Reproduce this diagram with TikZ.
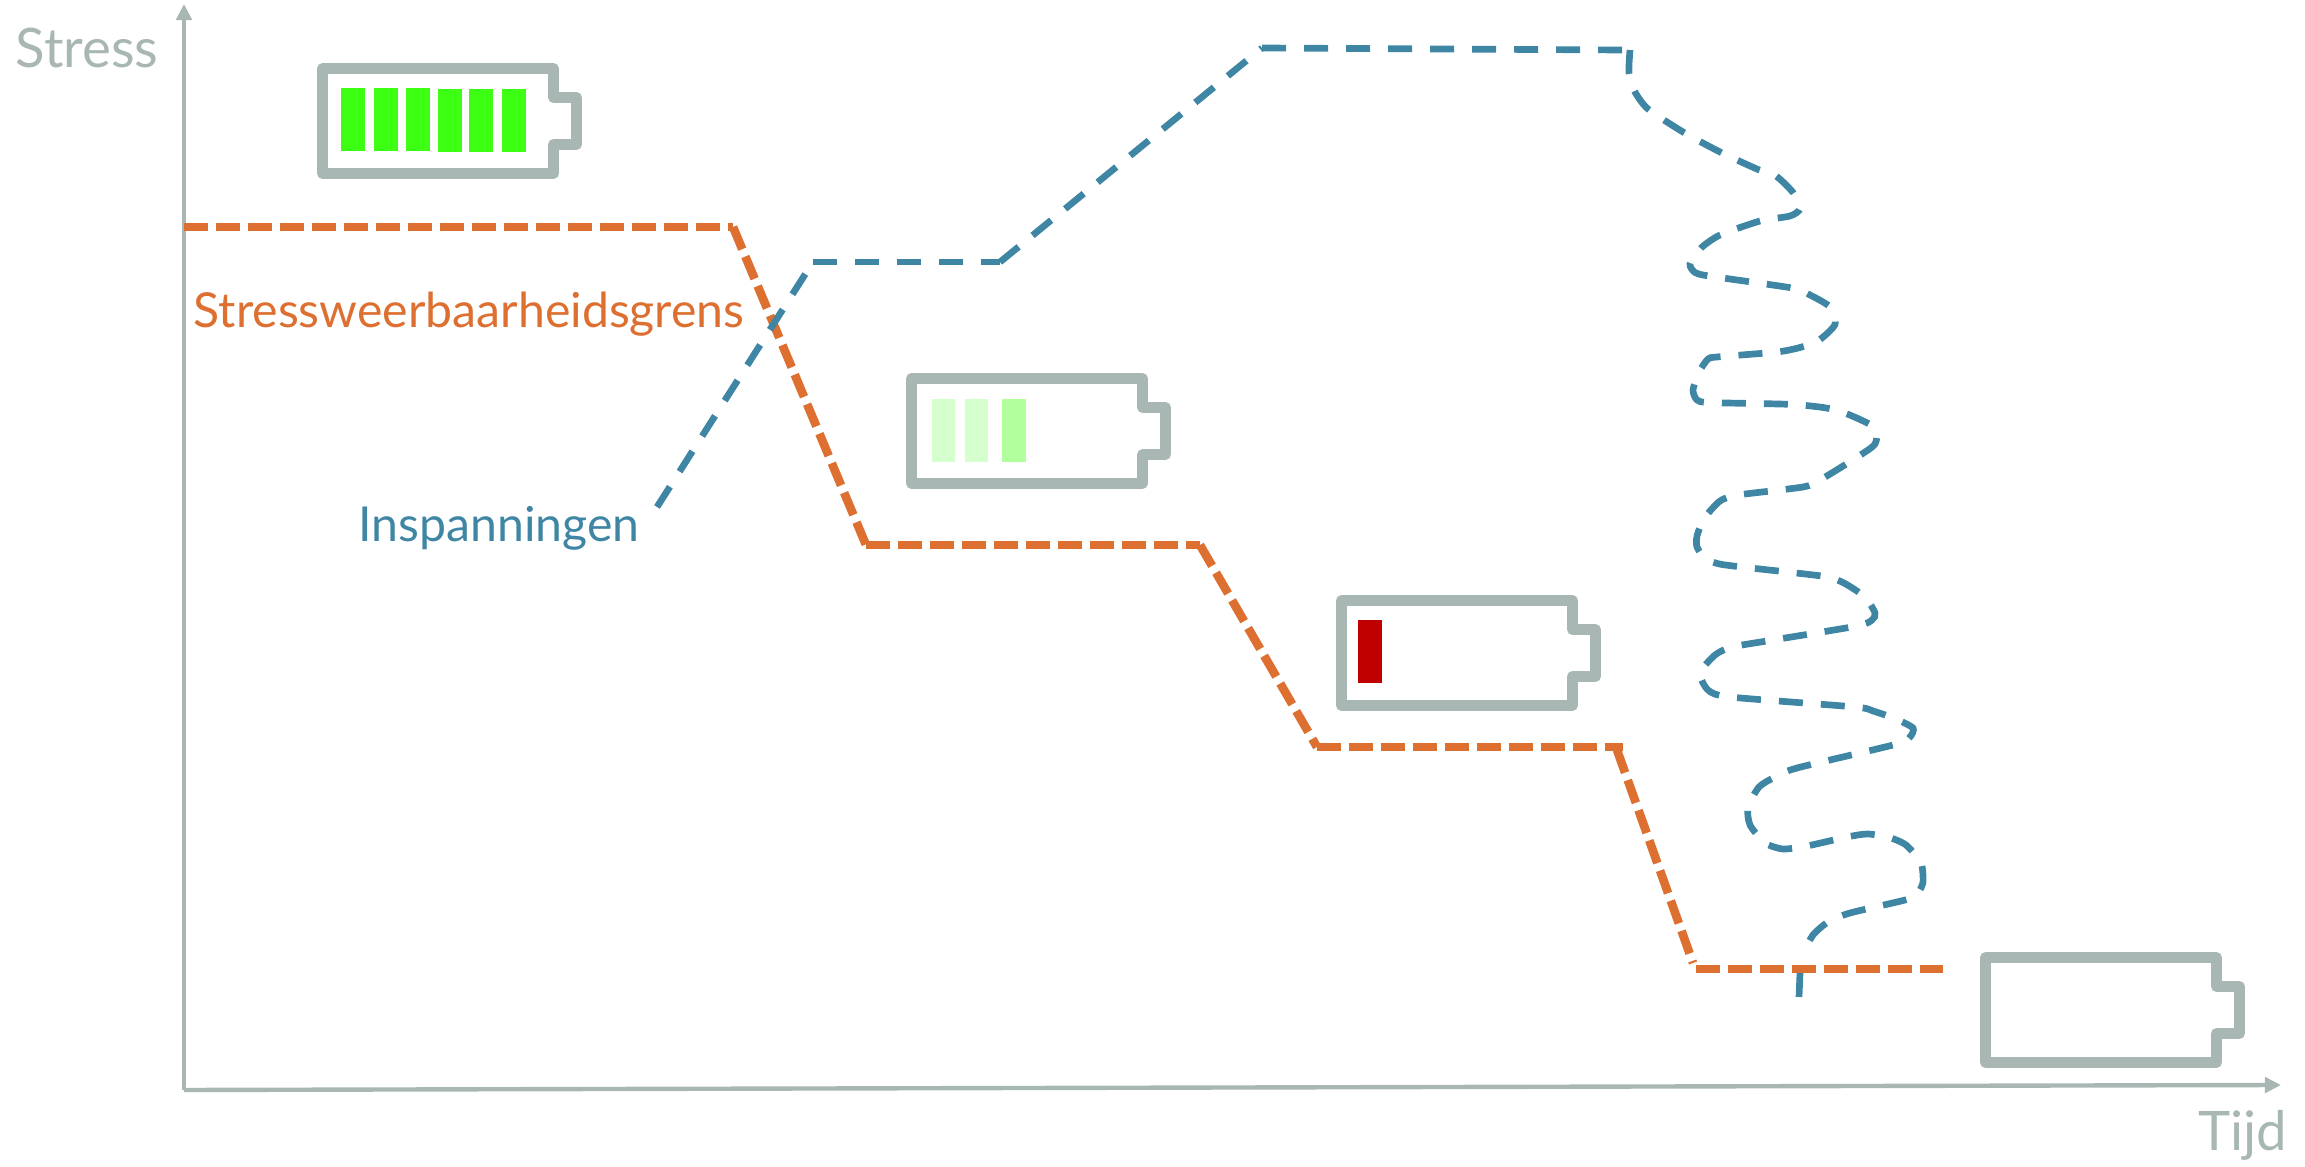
\documentclass[tikz,border=0pt]{standalone}
\usepackage{fontspec}
\setmainfont{Lato}
\usetikzlibrary{arrows.meta}
\definecolor{axisgray}{HTML}{A8B7B3}
\definecolor{limit}{HTML}{DD6F31}
\definecolor{effort}{HTML}{3F86A4}
\definecolor{charge}{HTML}{3CFF14}
\definecolor{chargepale}{HTML}{D6FFCE}
\definecolor{chargemid}{HTML}{B2FF9E}
\definecolor{chargelow}{HTML}{C00000}

\begin{document}
\begin{tikzpicture}[
  x=0.01cm, y=-0.01cm,
  axis/.style={draw=axisgray, line width=1.25pt, -{Triangle[length=4.6pt, width=4.4pt]}},
  limitline/.style={draw=limit, line width=2.45pt, dash pattern=on 6.83pt off 2.27pt},
  effortline/.style={draw=effort, line width=1.9pt, dash pattern=on 6.83pt off 5.12pt},
  axislabel/.style={font=\fontsize{15.5}{18}\selectfont, text=axisgray, anchor=base west, inner sep=0pt},
  linelabel/.style={font=\fontsize{13.7}{16}\selectfont, anchor=base west, inner sep=0pt},
  bar/.style={fill=#1, draw=none},
  battery/.pic={
    \draw[axisgray, line width=3.1pt, line join=round] (5.5,5.5) -- ++(231,0) -- ++(0,29) -- ++(23,0)
      -- ++(0,47) -- ++(-23,0) -- ++(0,29) -- ++(-231,0) -- cycle;
  },
]
\useasboundingbox (0,0) rectangle (2305,1167);

% axes
\coordinate (origin) at (184,1090);
\coordinate (ytop) at (184,4);
\coordinate (xend) at (2281,1085);
\draw[axis] (origin) -- (ytop);
\draw[axis] (origin) -- (xend);
\node[axislabel] (stress) at (15,68) {Stress};
\node[axislabel] (tijd) at (2198,1150) {Tijd};

% batteries
\pic at (317,63) {battery};
\pic at (906,373) {battery};
\pic at (1336,595) {battery};
\pic at (1980,952) {battery};

\foreach \x in {341,374,406} {
  \fill[bar=charge] (\x,88) rectangle ++(24,63);
}
\foreach \x in {438,469,502} {
  \fill[bar=charge] (\x,89) rectangle ++(24,63);
}
\foreach \x in {932,965} {
  \fill[bar=chargepale] (\x,399) rectangle ++(23,63);
}
\fill[bar=chargemid] (1002,399) rectangle ++(24,63);
\fill[bar=chargelow] (1358,620) rectangle ++(24,63);

% stress limit
\coordinate (l1) at (184,227);
\coordinate (l2) at (733,227);
\coordinate (l3) at (866,545);
\coordinate (l4) at (1200,545);
\coordinate (l5) at (1317,747);
\coordinate (l6) at (1623,747);
\coordinate (l7) at (1617,750);
\coordinate (l8) at (1693,963);
\coordinate (l9) at (1696,969);
\coordinate (l10) at (1943,969);
\draw[limitline] (l1) -- (l2);
\draw[limitline] (l2) -- (l3);
\draw[limitline] (l3) -- (l4);
\draw[limitline] (l4) -- (l5);
\draw[limitline] (l5) -- (l6);
\draw[limitline] (l7) -- (l8);
\draw[limitline] (l9) -- (l10);
\node[linelabel, text=limit] (grens) at (193,328) {Stressweerbaarheidsgrens};

% efforts
\coordinate (e1) at (657,507);
\coordinate (e2) at (813,262);
\coordinate (e3) at (1000,262);
\coordinate (e4) at (1262,48);
\coordinate (e5) at (1622,50);
\coordinate (e6) at (1800,973);
\coordinate (e7) at (1799,997);
\draw[effortline] (e1) -- (e2);
\draw[effortline] (e2) -- (e3);
\draw[effortline] (e3) -- (e4);
\draw[effortline] (e4) -- (e5);
\draw[effortline, smooth, tension=0.4] plot coordinates {
  (1630,50) (1629,73) (1635,92) (1648,109) (1683,132) (1720,152) (1758,169.5) (1776,176) (1793,192.5)
  (1800,208.6) (1790,216) (1760,221) (1720,235) (1701,248) (1690,264) (1695,272.5) (1709,276)
  (1792,288) (1810,295) (1830,307) (1835,324.5) (1818,341) (1800,347.5) (1777,352) (1717,357)
  (1708,359) (1699,372) (1693,390) (1697,400) (1710,402.6) (1793,404.5) (1836,410) (1874,427)
  (1875,444) (1855,458.5) (1820,480) (1803,487) (1738,495) (1720,501) (1704,518.6) (1697,536)
  (1697,547) (1705,558) (1722,564.5) (1787,572) (1828,577) (1845,583.6) (1865,597) (1875,613)
  (1872,620) (1857,626) (1773,640) (1732,647) (1715,655) (1700,673) (1708,690) (1730,697)
  (1855,707) (1873,711) (1896,719) (1913,728) (1910,737) (1897,744) (1797,768) (1775,777)
  (1759,787) (1748,807) (1750,825) (1765,843) (1783,849) (1807,846) (1847,837) (1867,834)
  (1888,837) (1906,845) (1921,863) (1923,882) (1918,893) (1909,899) (1850,913) (1828,922)
  (1813,935) (1802,955)
};
\draw[effortline] (e6) -- (e7);
\node[linelabel, text=effort] (inspanningen) at (358,542) {Inspanningen};
\end{tikzpicture}
\end{document}
